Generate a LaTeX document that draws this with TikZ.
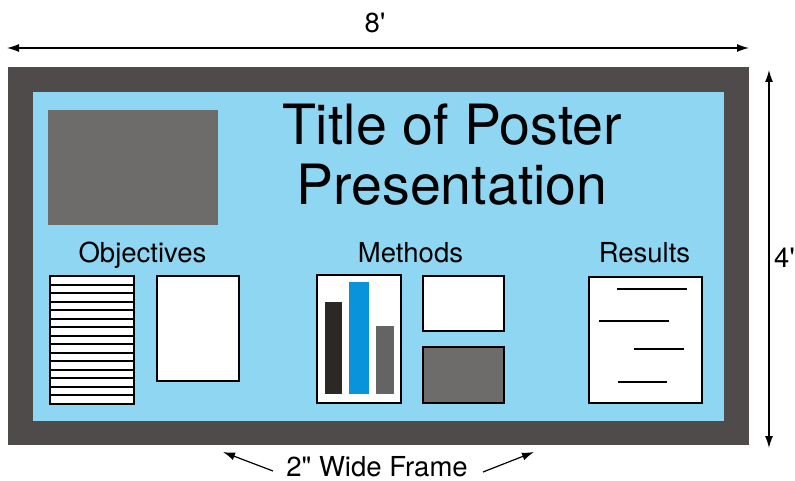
\documentclass[tikz,border=0pt]{standalone}
\usepackage{fontspec}
\setmainfont{TeX Gyre Heros}
\usetikzlibrary{arrows.meta}

\definecolor{framegray}{RGB}{78,75,74}
\definecolor{posterblue}{RGB}{143,214,243}
\definecolor{photogray}{RGB}{110,108,106}
\definecolor{bardark}{RGB}{43,40,38}
\definecolor{barblue}{RGB}{8,147,218}
\definecolor{bargray}{RGB}{100,100,100}

\begin{document}
\begin{tikzpicture}[x=1pt, y=-1pt, >={Latex[length=12pt,width=8pt]}]
    \tikzstyle{sheet}=[draw=black, line width=1.5pt, fill=white]
    \tikzstyle{heading}=[inner sep=0pt, anchor=base, font=\fontsize{27.5}{30}\selectfont]
    \tikzstyle{measure}=[<->, line width=1.2pt]

    \useasboundingbox (0,0) rectangle (795,481);

    % frame and board
    \fill[framegray] (8,67) rectangle (749,445);
    \fill[posterblue] (33,92) rectangle (724,421);

    % title block
    \fill[photogray] (48,110) rectangle (218,225);
    \node[inner sep=0pt, anchor=base, align=center, font=\fontsize{55.5}{60}\selectfont] (title) at (452,205) {Title of Poster\\Presentation};

    % objectives
    \node[heading] (obj) at (142.5,262) {Objectives};
    \draw[sheet] (50,276) rectangle (134,404);
    \foreach \i in {1,...,14}
        \draw[line width=2pt] (50,276+\i*8.533) -- (134,276+\i*8.533);
    \draw[sheet] (157,276) rectangle (239,381);

    % methods
    \node[heading] (meth) at (410.5,262) {Methods};
    \draw[sheet] (317,275) rectangle (401,403);
    \fill[bardark] (325,302) rectangle (342,394);
    \fill[barblue] (349,282) rectangle (369,394);
    \fill[bargray] (376,326) rectangle (394,394);
    \draw[sheet] (423,276) rectangle (504,331);
    \draw[sheet, fill=photogray] (423,347) rectangle (504,403);

    % results
    \node[heading] (res) at (644.5,262) {Results};
    \draw[sheet] (589,277) rectangle (702,403);
    \draw[line width=1.5pt] (617,289) -- (687,289);
    \draw[line width=1.5pt] (599,321) -- (669,321);
    \draw[line width=1.5pt] (634,349) -- (684,349);
    \draw[line width=1.5pt] (618,382) -- (667,382);

    % dimensions
    \coordinate (w8) at (7,48);
    \coordinate (e8) at (749,48);
    \coordinate (n4) at (769,70);
    \coordinate (s4) at (769,448);
    \draw[measure] (w8) -- (e8);
    \draw[measure] (n4) -- (s4);
    \node[heading] (eight) at (375,33) {8\textquotesingle};
    \node[heading, anchor=base west] (four) at (774,267) {4\textquotesingle};

    % frame note
    \node[heading] (note) at (377,476) {2\textquotedbl{} Wide Frame};
    \coordinate (tl) at (273,471);
    \coordinate (hl) at (223,452);
    \coordinate (tr) at (483,472);
    \coordinate (hr) at (534,452);
    \draw[->, line width=1.2pt] (tl) -- (hl);
    \draw[->, line width=1.2pt] (tr) -- (hr);
\end{tikzpicture}
\end{document}
